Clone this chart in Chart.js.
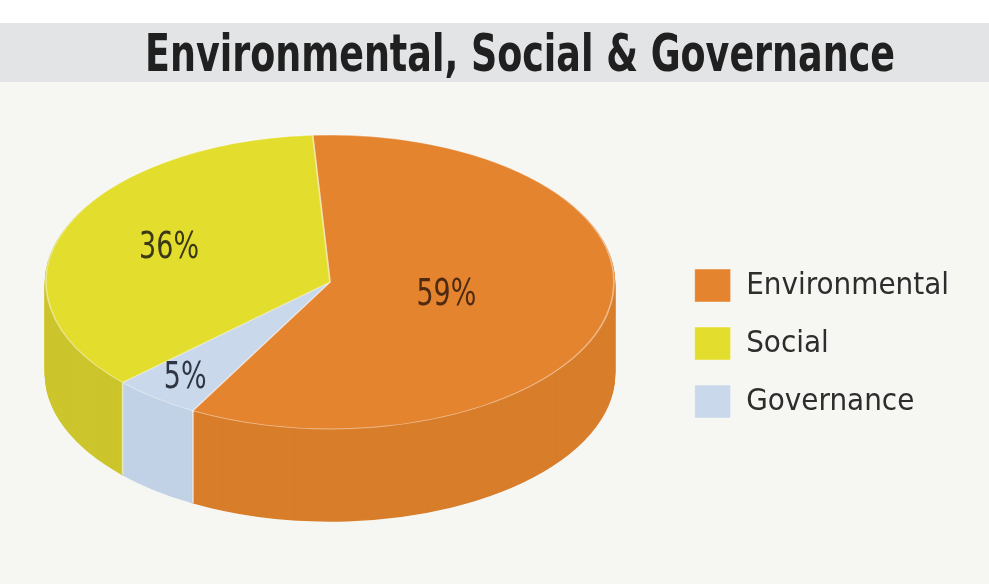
<!DOCTYPE html>
<html>
<head>
<meta charset="utf-8">
<title>Environmental, Social &amp; Governance</title>
<script src="https://cdn.jsdelivr.net/npm/chart.js@4.4.1/dist/chart.umd.min.js"></script>
<style>
  html, body { margin: 0; padding: 0; background: #f6f6f2; }
  #wrap { width: 989px; height: 584px; position: relative; }
</style>
</head>
<body>
<div id="wrap"><canvas id="esg_chart"></canvas></div>
<script>
// slices in clockwise drawing order, starting just left of 12 o'clock
const categories = ["Environmental", "Governance", "Social"];
const shares = [59, 5, 36];
// order the legend lists them in
const legendOrder = ["Environmental", "Social", "Governance"];
const chartTitle = "Environmental, Social & Governance";

const topColors = ["#e5842f", "#c9d8ea", "#e3dd2e"];
const sideColors = ["#d87e2b", "#c2d2e6", "#ccc52c"];
const labelColors = ["#4f2a12", "#2e3645", "#3a3816"];
const labelRadius = [0.42, 0.83, 0.61];

const FONT = '"Liberation Sans Narrow", "DejaVu Sans Condensed", "Liberation Sans", sans-serif';

// flattened disc the pie is projected onto
const DISC = { cx: 330, cy: 282, rx: 284, ry: 147, depth: 92 };

function project(ctx, arc, shift) {
    ctx.translate(DISC.cx, DISC.cy + shift);
    ctx.scale(DISC.rx / arc.outerRadius, DISC.ry / arc.outerRadius);
    ctx.translate(-arc.x, -arc.y);
}

// condensed text: squeeze horizontally around the anchor
function narrowText(ctx, text, x, y, squeeze) {
    ctx.save();
    ctx.translate(x, y);
    ctx.scale(squeeze, 1);
    ctx.fillText(text, 0, 0);
    ctx.restore();
}

const pie3d = {
    id: "pie3d",
    beforeDraw(chart) {
        const { ctx, width } = chart;
        ctx.save();
        ctx.fillStyle = "#ffffff";
        ctx.fillRect(0, 0, width, 23);
        ctx.fillStyle = "#e2e4e6";
        ctx.fillRect(0, 23, width, 59);

        // heading, squeezed to a condensed width
        ctx.font = "bold 51px " + FONT;
        ctx.fillStyle = "#202020";
        ctx.textAlign = "center";
        ctx.textBaseline = "alphabetic";
        const squeeze = 750 / ctx.measureText(chartTitle).width;
        narrowText(ctx, chartTitle, 520, 71, squeeze);
        ctx.restore();
    },
    beforeDatasetsDraw(chart) {
        const ctx = chart.ctx;
        const arcs = chart.getDatasetMeta(0).data;
        // side wall: stack the slices downwards, deepest layer first
        for (let k = DISC.depth; k > 0; k--) {
            ctx.save();
            project(ctx, arcs[0], k);
            ctx.lineWidth = 1.5;
            arcs.forEach((arc, i) => {
                ctx.beginPath();
                ctx.moveTo(arc.x, arc.y);
                ctx.arc(arc.x, arc.y, arc.outerRadius, arc.startAngle, arc.endAngle);
                ctx.closePath();
                ctx.fillStyle = sideColors[i];
                ctx.strokeStyle = sideColors[i];
                ctx.fill();
                ctx.stroke();
            });
            ctx.restore();
        }
        // light seams where two slices meet on the front wall
        ctx.save();
        ctx.strokeStyle = "rgba(255, 255, 255, 0.55)";
        ctx.lineWidth = 1.5;
        arcs.forEach(arc => {
            const a = arc.startAngle;
            if (Math.sin(a) <= 0) return;
            const x = DISC.cx + Math.cos(a) * DISC.rx;
            const y = DISC.cy + Math.sin(a) * DISC.ry;
            ctx.beginPath();
            ctx.moveTo(x, y);
            ctx.lineTo(x, y + DISC.depth);
            ctx.stroke();
        });
        ctx.restore();
        // top face gets drawn by the library inside this transform
        ctx.save();
        project(ctx, arcs[0], 0);
    },
    afterDatasetsDraw(chart) {
        const ctx = chart.ctx;
        ctx.restore();
        const arcs = chart.getDatasetMeta(0).data;
        ctx.save();
        ctx.font = "37px " + FONT;
        ctx.textAlign = "center";
        ctx.textBaseline = "middle";
        arcs.forEach((arc, i) => {
            const mid = (arc.startAngle + arc.endAngle) / 2;
            const x = DISC.cx + Math.cos(mid) * DISC.rx * labelRadius[i];
            const y = DISC.cy + Math.sin(mid) * DISC.ry * labelRadius[i];
            ctx.fillStyle = labelColors[i];
            narrowText(ctx, shares[i] + "%", x, y, 0.81);
        });
        ctx.restore();
    }
};

function drawEsgChart() {
    new Chart(document.getElementById("esg_chart"), {
        type: "pie",
        data: {
            labels: categories,
            datasets: [{
                data: shares,
                backgroundColor: topColors,
                borderColor: "rgba(255, 255, 255, 0.45)",
                borderWidth: 1,
                clip: false
            }]
        },
        options: {
            responsive: true,
            maintainAspectRatio: false,
            animation: false,
            events: [],
            rotation: -3.5,
            layout: { padding: { left: 0, right: 30, top: 244, bottom: 0 } },
            plugins: {
                title: { display: false },
                legend: {
                    position: "right",
                    align: "start",
                    labels: {
                        boxWidth: 36,
                        boxHeight: 33,
                        padding: 25,
                        color: "#2d2d2d",
                        font: { family: FONT, size: 31 },
                        sort: (a, b) => legendOrder.indexOf(a.text) - legendOrder.indexOf(b.text)
                    }
                },
                tooltip: { enabled: false }
            }
        },
        plugins: [pie3d]
    });
}

document.addEventListener("DOMContentLoaded", drawEsgChart);
</script>
</body>
</html>
